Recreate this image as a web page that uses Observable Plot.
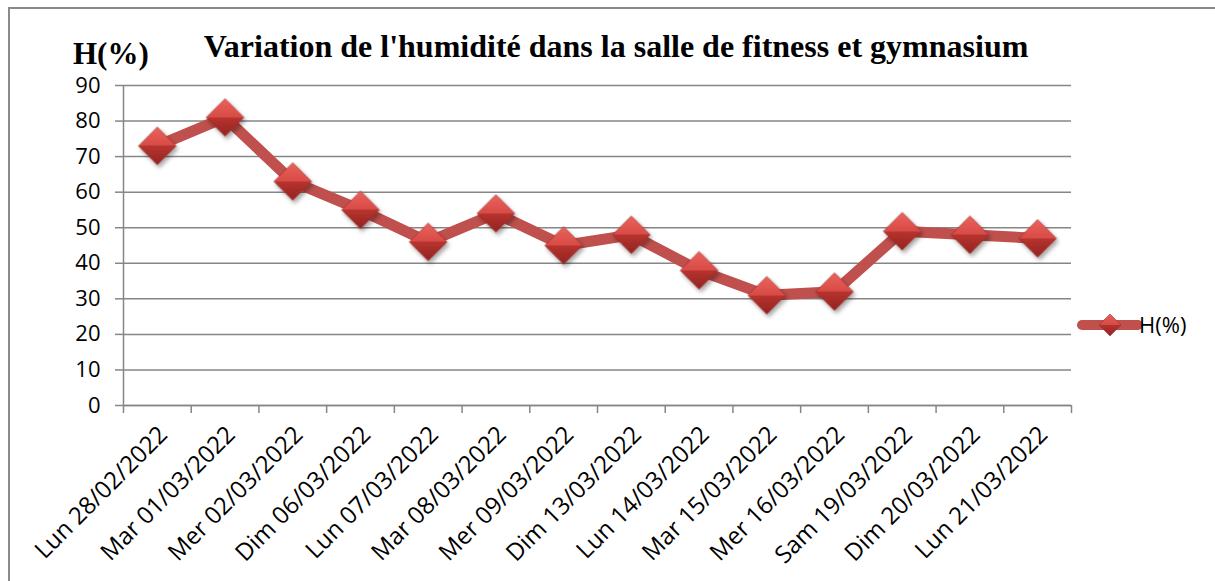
<!DOCTYPE html>
<html><head><meta charset="utf-8">
<script src="https://cdn.jsdelivr.net/npm/d3@7"></script>
<script src="https://cdn.jsdelivr.net/npm/@observablehq/plot@0.6"></script>
<style>
body{margin:0;background:#fff;}
#wrap{position:relative;width:1215px;height:581px;overflow:hidden;background:#fff;}
#frame{position:absolute;left:8px;top:7px;width:1400px;height:800px;border:2px solid #8a8a8a;}
#title{position:absolute;left:0;width:1232px;top:28px;text-align:center;font:bold 32px "Liberation Serif",serif;color:#000;white-space:nowrap;}
#ylab{position:absolute;left:73px;top:36px;font:bold 31px "Liberation Serif",serif;color:#000;}
#chart{position:absolute;left:0;top:0;}
#legend{position:absolute;left:1074px;top:310px;}
</style></head>
<body><div id="wrap"><div id="frame"></div><div id="chart"></div>
<div id="title">Variation de l'humidité dans la salle de fitness et gymnasium</div>
<div id="ylab">H(%)</div>
<svg id="legend" width="140" height="34">
  <line x1="8" y1="15" x2="64" y2="15" stroke="#C0504D" stroke-width="10" stroke-linecap="round"/>
  <path d="M36,4 L47,15 L36,26 L25,15Z" fill="url(#dgL)" stroke="#8a2a27" stroke-width="0.5"/>
  <defs><linearGradient id="dgL" x1="0" y1="0" x2="0" y2="1">
    <stop offset="0" stop-color="#e8605a"/><stop offset="0.5" stop-color="#d54a45"/>
    <stop offset="0.5" stop-color="#b5322e"/><stop offset="1" stop-color="#962522"/></linearGradient></defs>
  <text x="65" y="23" font-family="Open Sans" font-size="22" fill="#000">H(%)</text>
</svg>
</div>
<script>
const dates = ["Lun 28/02/2022","Mar 01/03/2022","Mer 02/03/2022","Dim 06/03/2022","Lun 07/03/2022","Mar 08/03/2022","Mer 09/03/2022","Dim 13/03/2022","Lun 14/03/2022","Mar 15/03/2022","Mer 16/03/2022","Sam 19/03/2022","Dim 20/03/2022","Lun 21/03/2022"];
const humidity = [73, 81, 63, 55, 46, 54, 45, 48, 38, 31, 32, 49, 48, 47];
const yTicks = [0,10,20,30,40,50,60,70,80,90];

const data = dates.map((d, i) => ({i, date: d, h: humidity[i]}));
const gray = "#868686";

const plot = Plot.plot({
  width: 1215, height: 581,
  marginLeft: 123, marginRight: 144, marginTop: 85, marginBottom: 176,
  x: {type: "linear", domain: [0, dates.length]},
  y: {domain: [0, 90]},
  style: {fontFamily: "Open Sans", fontSize: "20px", color: "#000", background: "transparent"},
  marks: [
    Plot.gridY(yTicks, {stroke: gray, strokeOpacity: 1, strokeWidth: 1.5}),
    Plot.ruleX([0], {stroke: gray, strokeWidth: 1.5}),
    Plot.ruleY([0], {stroke: gray, strokeWidth: 1.5}),
    Plot.axisY(yTicks, {tickSize: 8, tickPadding: 15, stroke: gray, strokeWidth: 1.5, label: null, fill: "#000", fontSize: 22}),
    Plot.axisX(d3.range(dates.length + 1), {tickSize: 8, tickFormat: () => "", stroke: gray, strokeWidth: 1.5, label: null}),
    Plot.axisX(d3.range(dates.length).map(i => i + 0.5), {tickSize: 0, tickPadding: 25, tickRotate: -45, tickFormat: v => dates[Math.round(v - 0.5)], label: null, fill: "#000", fontSize: 24, dx: 6}),
    Plot.line(data, {x: d => d.i + 0.5, y: "h", stroke: "#C0504D", strokeWidth: 11, strokeLinejoin: "round"}),
    Plot.dot(data, {x: d => d.i + 0.5, y: "h", symbol: "diamond2", r: 17, fill: "url(#dg)", stroke: "#8a2a27", strokeWidth: 0.6})
  ]
});
const svg = d3.select(plot);
const defs = svg.insert("defs", ":first-child");
const g = defs.append("linearGradient").attr("id", "dg").attr("x1", 0).attr("y1", 0).attr("x2", 0).attr("y2", 1);
[["0","#ec625c"],["0.5","#d84b46"],["0.5","#b8332f"],["1","#922421"]].forEach(([o,c]) => g.append("stop").attr("offset", o).attr("stop-color", c));
const f = defs.append("filter").attr("id", "sh").attr("x", "-50%").attr("y", "-50%").attr("width", "200%").attr("height", "200%");
f.append("feDropShadow").attr("dx", 2).attr("dy", 3).attr("stdDeviation", 2).attr("flood-color", "#000").attr("flood-opacity", 0.35);
svg.selectAll("g[aria-label=dot]").attr("filter", "url(#sh)");
document.getElementById("chart").appendChild(plot);
</script>
</body></html>
